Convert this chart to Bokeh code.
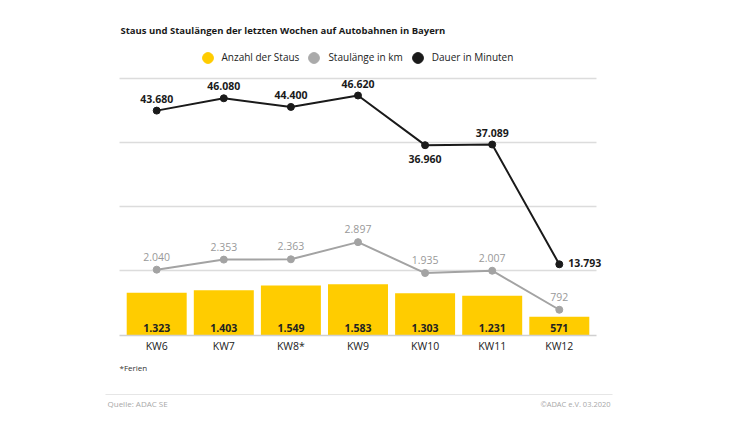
from bokeh.plotting import figure
from bokeh.models import (ColumnDataSource, Range1d, FixedTicker, LabelSet,
                          Label, Legend, LegendItem, BoxAnnotation)
from bokeh.embed import file_html
from bokeh.resources import INLINE
from bokeh.core.properties import value

# ---- data ----
weeks = ["KW6", "KW7", "KW8*", "KW9", "KW10", "KW11", "KW12"]
staus = [1323, 1403, 1549, 1583, 1303, 1231, 571]              # Anzahl der Staus
laenge_km = [2040, 2353, 2363, 2897, 1935, 2007, 792]           # Staulänge in km
dauer_min = [43680, 46080, 44400, 46620, 36960, 37089, 13793]   # Dauer in Minuten
grid_values = [2000, 4000, 6000, 8000]

title_text = "Staus und Staulängen der letzten Wochen auf Autobahnen in Bayern"
legend_labels = ["Anzahl der Staus", "Staulänge in km", "Dauer in Minuten"]
footnote = "*Ferien"
source_text = "Quelle: ADAC SE"
copyright_text = "©ADAC e.V.  03.2020"

YELLOW = "#FFCC00"
GREY = "#A3A3A3"
BLACK = "#1A1A1A"
FONT = "Open Sans"


def de(n):
    return f"{n:,}".replace(",", ".")


# ---- layout geometry (pixels) ----
W, H = 750, 422
L, R = 119, 596          # extent of the plot area
BASE = 334.7             # baseline
TOPGRID = 77.7           # pixel of the top grid line (8000)
pad = 0.5544
ux = (R - L) / (len(weeks) - 1 + 2 * pad)   # px per category
x_start = -pad - L / ux
x_end = x_start + W / ux
uy = grid_values[-1] / (BASE - TOPGRID)     # units per px (primary)
ud = 194.5                                  # units per px (Dauer)


def fx(px):
    return x_start + px / ux


def fy(py):
    return (BASE - py) * uy


xs = list(range(len(weeks)))

p = figure(width=W, height=H, output_backend="svg", toolbar_location=None,
           x_range=Range1d(x_start, x_end),
           y_range=Range1d(-(H - BASE) * uy, BASE * uy),
           min_border=0)
p.min_border_left = p.min_border_right = p.min_border_top = p.min_border_bottom = 0
p.outline_line_color = None
p.background_fill_color = "white"
p.border_fill_color = "white"
p.extra_y_ranges = {"dauer": Range1d(-(H - BASE) * ud, BASE * ud)}

# axes / grid
p.yaxis.visible = False
p.yaxis.ticker = FixedTicker(ticks=grid_values)
p.ygrid.ticker = FixedTicker(ticks=grid_values)
p.ygrid.grid_line_color = "#DCDCDC"
p.ygrid.grid_line_width = 1.5
p.ygrid.cross_bounds = (-pad, len(weeks) - 1 + pad)
p.xgrid.visible = False

xa = p.xaxis[0]
xa.fixed_location = 0
xa.bounds = (-pad, len(weeks) - 1 + pad)
xa.ticker = FixedTicker(ticks=xs)
xa.major_label_overrides = {i: w for i, w in enumerate(weeks)}
xa.major_tick_line_color = None
xa.minor_tick_line_color = None
xa.major_tick_out = 0
xa.major_tick_in = 0
xa.minor_tick_out = 0
xa.axis_line_color = "#D0D0D0"
xa.axis_line_width = 1.5
xa.major_label_standoff = 4
xa.major_label_text_font = FONT
xa.major_label_text_font_size = "10.5px"
xa.major_label_text_color = "#222222"

src = ColumnDataSource(dict(
    x=xs, weeks=weeks, staus=staus, km=laenge_km, dauer=dauer_min,
    staus_txt=[de(v) for v in staus],
    km_txt=[de(v) for v in laenge_km],
    dauer_txt=[de(v) for v in dauer_min],
    zero=[0] * len(xs),
))

# bars
p.vbar(x="x", top="staus", width=0.894, source=src, fill_color=YELLOW, line_color=None)

# grey line
p.line(x="x", y="km", source=src, line_color=GREY, line_width=2)
p.scatter(x="x", y="km", source=src, size=7, fill_color=GREY, line_color=GREY)

# black line
p.line(x="x", y="dauer", source=src, line_color=BLACK, line_width=2, y_range_name="dauer")
p.scatter(x="x", y="dauer", source=src, size=7, fill_color=BLACK, line_color=BLACK,
          y_range_name="dauer")

# value labels
p.add_layout(LabelSet(x="x", y="zero", text="staus_txt", source=src, y_offset=7,
                      text_align="center", text_baseline="middle", text_font=value(FONT),
                      text_font_size="10.5px", text_font_style="bold", text_color="#222222"))

p.add_layout(LabelSet(x="x", y="km", text="km_txt", source=src, y_offset=13,
                      text_align="center", text_baseline="middle", text_font=value(FONT),
                      text_font_size="10.5px", text_color="#999999"))

# placement of the black labels (style only)
pos = ["above", "above", "above", "above", "below", "above", "right"]
src.data["dx"] = [9 if s == "right" else 0 for s in pos]
src.data["dy"] = [12 if s == "above" else (-14 if s == "below" else 1) for s in pos]
src.data["al"] = ["left" if s == "right" else "center" for s in pos]
p.add_layout(LabelSet(x="x", y="dauer", text="dauer_txt", source=src, y_range_name="dauer",
                      x_offset="dx", y_offset="dy", text_align="al",
                      text_baseline="middle", text_font=value(FONT),
                      text_font_size="10.5px", text_font_style="bold", text_color=BLACK))

# legend (proxy renderers, no visible data)
nan = float("nan")
ly = p.scatter(x=[nan], y=[nan], size=11, marker="circle", fill_color=YELLOW, line_color=YELLOW)
lg = p.scatter(x=[nan], y=[nan], size=11, marker="circle", fill_color="#AAAAAA",
               line_color="#AAAAAA")
lb = p.scatter(x=[nan], y=[nan], size=11, marker="circle", fill_color=BLACK, line_color=BLACK)
legend = Legend(items=[LegendItem(label=legend_labels[0], renderers=[ly]),
                       LegendItem(label=legend_labels[1], renderers=[lg]),
                       LegendItem(label=legend_labels[2], renderers=[lb])],
                orientation="horizontal", location=(193.5, H - 70.5),
                glyph_width=27, glyph_height=27, label_standoff=1, spacing=1,
                padding=0, margin=0, border_line_color=None, background_fill_alpha=0,
                label_text_font=FONT, label_text_font_size="10px",
                label_text_color="#222222")
p.add_layout(legend, "center")

# title
p.add_layout(Label(x=fx(120), y=fy(30), text=title_text, text_font=FONT,
                   text_font_size="9.5px", text_font_style="bold", text_color="#1A1A1A",
                   text_baseline="middle"))

# footnotes
p.add_layout(Label(x=fx(119), y=fy(367), text=footnote, text_font=FONT,
                   text_font_size="8px", text_color="#333333", text_baseline="middle"))
p.add_layout(Label(x=fx(107), y=fy(403), text=source_text, text_font=FONT,
                   text_font_size="8px", text_color="#A8A8A8", text_baseline="middle"))
p.add_layout(Label(x=fx(612), y=fy(403), text=copyright_text, text_font=FONT,
                   text_font_size="7.5px", text_color="#A8A8A8", text_baseline="middle",
                   text_align="right"))
p.add_layout(BoxAnnotation(left=fx(105), right=fx(612), top=fy(393.5), bottom=fy(394.5),
                           fill_color="#E6E6E6", fill_alpha=1, line_alpha=0))

open("out.html", "w").write(file_html(p, INLINE))
